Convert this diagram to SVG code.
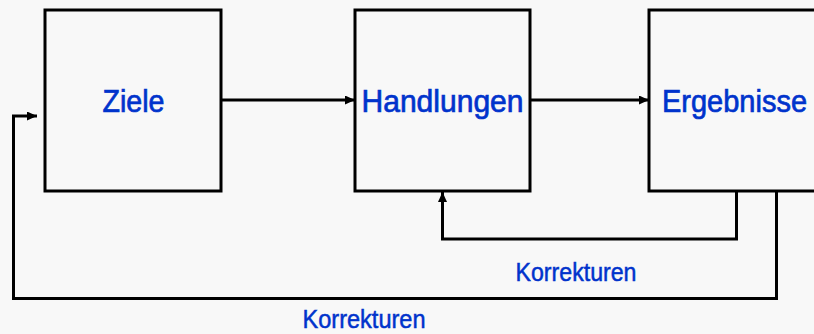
<svg xmlns="http://www.w3.org/2000/svg" width="814" height="334" viewBox="0 0 814 334">
<style>
.box{fill:none;stroke:#000;stroke-width:3}
.lbl{font-family:"Liberation Sans",Arial,sans-serif;font-size:31px;fill:#0033cc;stroke:#0033cc;stroke-width:0.7}
.kor{font-family:"Liberation Sans",Arial,sans-serif;font-size:26px;fill:#0033cc;stroke:#0033cc;stroke-width:0.5}
.con{fill:none;stroke:#000;stroke-width:3}
</style>
<defs>
<marker id="ah" markerUnits="userSpaceOnUse" markerWidth="10" markerHeight="9" refX="10" refY="4.5" orient="auto">
<path d="M0,0 L10,4.5 L0,9 Z" fill="#000"/>
</marker>
</defs>
<rect width="814" height="334" fill="#f8f8f8"/>
<g id="ziele">
<rect class="box" x="45" y="10" width="176" height="181"/>
<text class="lbl" x="102.5" y="112" textLength="62" lengthAdjust="spacingAndGlyphs">Ziele</text>
</g>
<g id="handlungen">
<rect class="box" x="355" y="10" width="175" height="181"/>
<text class="lbl" x="361.5" y="112" textLength="162" lengthAdjust="spacingAndGlyphs">Handlungen</text>
</g>
<g id="ergebnisse">
<rect class="box" x="649" y="10" width="200" height="181"/>
<text class="lbl" x="662" y="112" textLength="145" lengthAdjust="spacingAndGlyphs">Ergebnisse</text>
</g>
<g id="connectors">
<line class="con" x1="221" y1="100" x2="355" y2="100" marker-end="url(#ah)"/>
<line class="con" x1="530" y1="100" x2="649" y2="100" marker-end="url(#ah)"/>
<polyline class="con" points="736.5,191 736.5,239 442.5,239 442.5,192" marker-end="url(#ah)"/>
<polyline class="con" points="776.5,191 776.5,298.5 13.5,298.5 13.5,116 37,116" marker-end="url(#ah)"/>
</g>
<g id="labels">
<text class="kor" x="515.5" y="280.5" textLength="121" lengthAdjust="spacingAndGlyphs">Korrekturen</text>
<text class="kor" x="302.5" y="327.5" textLength="123" lengthAdjust="spacingAndGlyphs">Korrekturen</text>
</g>
</svg>
